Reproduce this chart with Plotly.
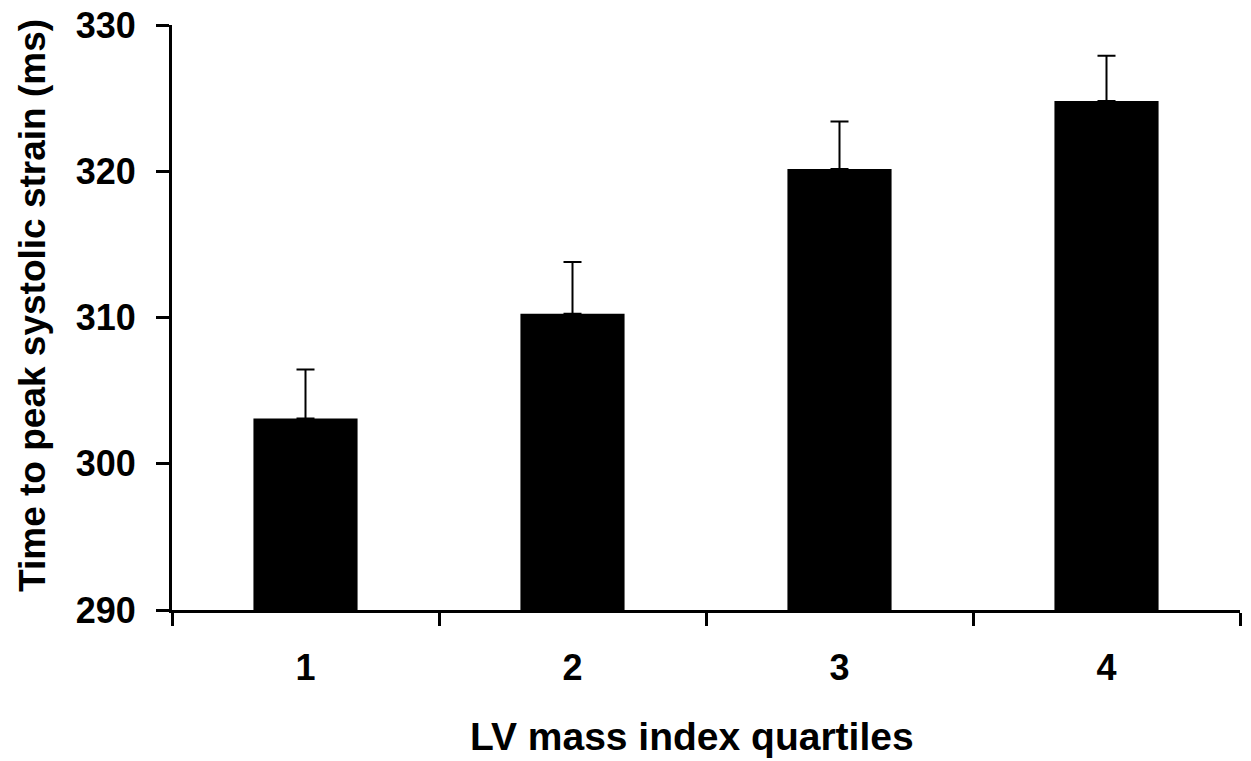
import plotly.graph_objects as go

categories = ["1", "2", "3", "4"]
means = [303.1, 310.25, 320.15, 324.8]
errors_up = [3.35, 3.55, 3.25, 3.1]
x_title = "LV mass index quartiles"
y_title = "Time to peak systolic strain (ms)"

FONT = "Liberation Sans, Arial, sans-serif"
BASE = 290

fig = go.Figure()
fig.add_trace(go.Bar(
    x=categories,
    y=[m - BASE for m in means],
    base=BASE,
    marker=dict(color="black", line=dict(width=0)),
    error_y=dict(type="data", symmetric=False, array=errors_up,
                 arrayminus=[0] * len(errors_up),
                 color="black", thickness=2, width=9),
))

fig.update_layout(
    width=1251, height=761,
    margin=dict(l=172, r=11, t=25, b=151),
    paper_bgcolor="white", plot_bgcolor="white",
    bargap=0.61,
    showlegend=False,
    font=dict(family=FONT, color="black"),
    xaxis=dict(
        type="category", range=[-0.5, 3.5], automargin=False,
        showline=True, linecolor="black", linewidth=3,
        ticks="outside", tickson="boundaries", ticklen=13, tickwidth=3, tickcolor="black",
        tickfont=dict(family=FONT, size=36, color="black", weight="bold"),
        ticklabelstandoff=24, ticklabeloverflow="allow",
        showgrid=False, zeroline=False,
    ),
    yaxis=dict(
        range=[290, 330], tickvals=[290, 300, 310, 320, 330], automargin=False,
        showline=True, linecolor="black", linewidth=3,
        ticks="outside", ticklen=13, tickwidth=3, tickcolor="black",
        tickfont=dict(family=FONT, size=36, color="black", weight="bold"),
        ticklabelstandoff=13, ticklabeloverflow="allow",
        showgrid=False, zeroline=False,
    ),
    annotations=[
        dict(text="<b>" + x_title + "</b>", xref="paper", yref="paper",
             x=0.487, y=-0.2154, xanchor="center", yanchor="middle", showarrow=False,
             font=dict(family=FONT, size=39, color="black")),
        dict(text="<b>" + y_title + "</b>", xref="paper", yref="paper",
             x=-0.130, y=0.52, xanchor="center", yanchor="middle", showarrow=False,
             textangle=-90, font=dict(family=FONT, size=37, color="black")),
    ],
)

fig.write_html("out.html", config={"displayModeBar": False},
               post_script="document.body.style.margin='0px';")
